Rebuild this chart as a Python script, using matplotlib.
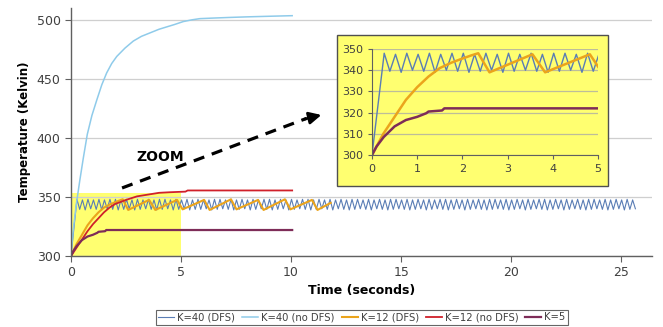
import numpy as np
import matplotlib
matplotlib.use("Agg")
import matplotlib.pyplot as plt
from matplotlib.patches import Rectangle

# ---------------- data ----------------
# K=40 (DFS): start point, then alternating peaks/troughs every half period
k40dfs_start_t = [0.0]
k40dfs_start_v = [300]
k40dfs_first_peak_t = 0.27
k40dfs_half_period = 0.125
k40dfs_vals = [
    348, 339.5, 347.5, 339, 348, 340, 347.5, 339.5, 348, 339, 347.5, 340,
    348, 339.5, 348, 339, 347.5, 339.5, 348, 340, 347.5, 339, 348, 339.5,
    347.5, 340, 348, 339.5, 347.5, 339, 348, 339.5, 348, 340, 347.5, 339,
    348, 339.5, 347.5, 340, 348, 339, 347.5, 339.5, 348, 339.5, 347.5, 340,
    347.5, 339, 348, 339.5, 348, 340, 347.5, 339.5, 348, 339, 347.5, 339.5,
    348, 340, 347.5, 339, 348, 339.5, 347.5, 340, 348, 339.5, 348, 339,
    347.5, 339.5, 348, 340, 347.5, 339, 348, 339.5, 347.5, 340, 348, 339.5,
    348, 339, 347.5, 339.5, 348, 340, 347.5, 339.5, 348, 339, 347.5, 340,
    348, 339.5, 347.5, 339, 348, 339.5, 348, 340, 347.5, 339.5, 348, 339,
    347.5, 340, 348, 339.5, 347.5, 339, 348, 339.5, 348, 340, 347.5, 339.5,
    348, 339, 347.5, 339.5, 348, 340, 347.5, 339, 348, 339.5, 347.5, 340,
    348, 339.5, 348, 339, 347.5, 339.5, 348, 340, 347.5, 339, 348, 339.5,
    347.5, 340, 348, 339.5, 347.5, 339, 348, 339.5, 348, 340, 347.5, 339.5,
    348, 339, 347.5, 339.5, 348, 340, 347.5, 339, 348, 339.5, 347.5, 340,
    348, 339.5, 348, 339, 347.5, 339.5, 348, 340, 347.5, 339, 348, 339.5,
    347.5, 340, 348, 339.5, 347.5, 339, 348, 339.5, 348, 340, 347.5, 339.5,
    348, 339, 347.5, 339.5, 348, 340, 347.5, 339, 348, 339.5, 347.5, 340,
]

# K=40 (no DFS)
k40_t = [0, 0.1, 0.25, 0.4, 0.56, 0.74, 0.95, 1.17, 1.4, 1.62, 1.85, 2.08, 2.45,
         2.83, 3.2, 3.6, 4.0, 4.35, 4.7, 5.1, 5.5, 5.86, 6.5, 7.2, 8.0, 9.0, 10.05]
k40_v = [300, 322, 345, 364, 383, 403, 419, 432, 445, 455, 463, 469, 476,
         482, 486, 489, 492, 494, 496, 498.5, 500, 501, 501.5, 502, 502.5, 503, 503.5]

# K=12 (DFS)
k12dfs_t = [0, 0.25, 0.5, 0.75, 1.0, 1.25, 1.5, 1.75, 2.0, 2.2, 2.35, 2.6,
            3.55, 3.83, 4.82, 5.07, 6.05, 6.3, 7.27, 7.52, 8.5, 8.75,
            9.72, 9.97, 10.95, 11.2, 11.8]
k12dfs_v = [300, 310, 318, 326, 332, 337, 341, 343.5, 345.5, 347, 348, 339,
            347.5, 339, 347.5, 339.5, 347.5, 339, 348, 339.5, 347.5, 339,
            348, 339.5, 347.5, 339, 345]

# K=12 (no DFS)
k12_t = [0, 0.25, 0.5, 0.75, 1.0, 1.25, 1.5, 1.75, 2.0, 2.5, 3.0, 3.5, 4.0,
         4.5, 5.2, 5.3, 10.05]
k12_v = [300, 307, 314, 321, 327, 332, 337, 341, 344, 347.5, 350.5, 352, 353.5,
         354, 354.5, 355.5, 355.5]

# K=5
k5_t = [0, 0.1, 0.26, 0.5, 0.75, 1.0, 1.2, 1.25, 1.55, 1.6, 5.0, 10.05]
k5_v = [300, 304, 308.5, 313.5, 316.5, 318, 319.7, 320.5, 321, 322, 322, 322]

labels = ["K=40 (DFS)", "K=40 (no DFS)", "K=12 (DFS)", "K=12 (no DFS)", "K=5"]
colors = ["#5A7DB5", "#8FCBEA", "#EBA41C", "#D0202A", "#7E2C58"]
widths = [0.8, 1.1, 1.5, 1.3, 1.6]

main_xticks = [0, 5, 10, 15, 20, 25]
main_yticks = [300, 350, 400, 450, 500]
inset_xticks = [0, 1, 2, 3, 4, 5]
inset_yticks = [300, 310, 320, 330, 340, 350]

# --------------- build series ---------------
k40dfs_t = np.concatenate([k40dfs_start_t,
                           k40dfs_first_peak_t + k40dfs_half_period * np.arange(len(k40dfs_vals))])
k40dfs_v = np.concatenate([k40dfs_start_v, k40dfs_vals])
series = [(k40dfs_t, k40dfs_v), (k40_t, k40_v), (k12dfs_t, k12dfs_v),
          (k12_t, k12_v), (k5_t, k5_v)]

W, H = 663, 327
fig = plt.figure(figsize=(W / 100, H / 100), dpi=100)
fig.patch.set_facecolor("white")

def fx(px):
    return px / W

def fy(py):
    return 1 - py / H

yellow = "#FFFF70"
txtc = "#404040"

ax = fig.add_axes([fx(71), fy(256), fx(652) - fx(71), fy(8) - fy(256)], zorder=0)
ax.set_xlim(0, 26.4)
ax.set_ylim(300, 510)
ax.set_xticks(main_xticks)
ax.set_yticks(main_yticks)
ax.yaxis.grid(True, color="#CFCFCF", lw=0.9)
ax.set_axisbelow(True)
for s in ["top", "right"]:
    ax.spines[s].set_visible(False)
for s in ["left", "bottom"]:
    ax.spines[s].set_color("#606060")
    ax.spines[s].set_linewidth(1.0)
ax.tick_params(axis="both", colors="#606060", labelcolor=txtc, labelsize=9, length=4, direction="out")
ax.add_patch(Rectangle((0, 300), 5, 53, facecolor=yellow, edgecolor="none", zorder=0.5))

lines = []
for (t, v), lab, c, w in zip(series, labels, colors, widths):
    ln, = ax.plot(t, v, color=c, lw=w, label=lab, zorder=2)
    lines.append(ln)

ax.set_xlabel("Time (seconds)", fontsize=9, fontweight="bold", color="black", labelpad=3)
ax.set_ylabel("Temperature (Kelvin)", fontsize=8.5, fontweight="bold", color="black", labelpad=4)

# ZOOM arrow
ax.plot([2.32, 10.7], [357.6, 416.5], color="black", lw=2.3, ls=(0, (3.5, 2.5)), zorder=3)
ax.annotate("", xy=(11.5, 420), xytext=(10.5, 415.4),
            arrowprops=dict(arrowstyle="-|>", color="black", lw=2.0, mutation_scale=18), zorder=3)
ax.text(4.05, 384, "ZOOM", fontsize=10, fontweight="bold", ha="center", va="center", zorder=3)

# inset frame
frame = Rectangle((fx(337), fy(186)), fx(608) - fx(337), fy(35) - fy(186),
                  transform=fig.transFigure, facecolor=yellow, edgecolor="#505050",
                  lw=1.0, zorder=1)
fig.add_artist(frame)

ia = fig.add_axes([fx(372), fy(155), fx(598) - fx(372), fy(49) - fy(155)], zorder=2)
ia.set_facecolor(yellow)
ia.set_xlim(0, 5)
ia.set_ylim(300, 350)
ia.set_xticks(inset_xticks)
ia.set_yticks(inset_yticks)
ia.yaxis.grid(True, color="#BDBD9A", lw=0.9)
ia.set_axisbelow(True)
for s in ["top", "right"]:
    ia.spines[s].set_visible(False)
for s in ["left", "bottom"]:
    ia.spines[s].set_color("#606060")
ia.tick_params(axis="both", colors="#606060", labelcolor=txtc, labelsize=8, length=3, direction="out")
for i in [0, 2, 4]:
    t, v = series[i]
    ia.plot(t, v, color=colors[i], lw=widths[i] + (0.3 if i == 2 else 0.2), clip_on=True)

leg = fig.legend(handles=lines, labels=labels, ncol=5, loc="center",
                 bbox_to_anchor=(fx(362), fy(317.5)), fontsize=7.2, frameon=True,
                 fancybox=False, edgecolor="#404040", handlelength=1.6, handletextpad=0.3,
                 columnspacing=0.7, borderpad=0.25, labelcolor=txtc)
leg.get_frame().set_linewidth(0.8)

fig.savefig("out.png", dpi=100)
